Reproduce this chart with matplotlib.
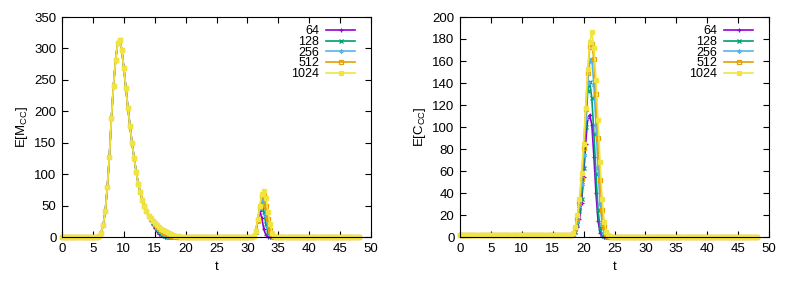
import matplotlib
matplotlib.use("Agg")
import matplotlib.pyplot as plt
import numpy as np

plt.rcParams["font.family"] = ["Liberation Sans", "DejaVu Sans"]
plt.rcParams["font.size"] = 9.5

# time grid: 0 .. 48 in steps of 1/3
T_STEP = 1 / 3
T_COUNT = 145

SIZES = ["64", "128", "256", "512", "1024"]
COLORS = ["#9400d3", "#009e73", "#56b4e9", "#e69f00", "#f0e442"]
MARKERS = ["+", "x", (6, 2, 0), "s", "s"]
FILLED = [True, True, True, False, True]

# E[M_CC] -- first peak is shared by every size (t = 5.67 .. 13.67)
M_PEAK1_START = 17
M_PEAK1 = [0.5, 2, 7, 19, 41, 79, 128, 190, 241, 281, 308, 313, 298, 269,
           237, 205, 177, 149, 126, 104, 85, 71, 59, 49, 41]
# tails from t = 14.0
M_TAIL_START = 42
M_TAIL = {
    "64":   [34, 27, 20, 14, 9, 5, 2.5, 1, 0.3],
    "128":  [34, 28, 22, 17, 12, 8, 5, 3, 1.5, 0.6, 0.2],
    "256":  [34, 29, 24, 19, 15, 11, 8, 5.5, 3.5, 2, 1, 0.4, 0.1],
    "512":  [34, 29, 25, 21, 17, 14, 11, 8.5, 6.5, 4.8, 3.4, 2.3, 1.5, 0.9,
             0.5, 0.2],
    "1024": [34, 29.5, 25.5, 22, 19, 16, 13.5, 11, 9, 7.2, 5.6, 4.2, 3.1, 2.2,
             1.5, 0.9, 0.5, 0.2],
}
# second peak from t = 31.0
M_PEAK2_START = 93
M_PEAK2 = {
    "64":   [1, 8, 25, 42, 30, 12, 3, 0.5],
    "128":  [1, 8, 25, 45, 55, 40, 20, 7, 2],
    "256":  [1, 9, 26, 46, 60, 55, 35, 16, 5, 1],
    "512":  [1, 9, 27, 48, 65, 68, 50, 28, 11, 3],
    "1024": [1, 10, 28, 50, 68, 73, 62, 40, 20, 7, 1.5],
}

# E[C_CC] -- small level before the peak, peak from t = 18.0
C_BASE = 1.5
C_BASE_END = 54
C_PEAK_START = 54
C_PEAK = {
    "64":   [1.5, 1.5, 4, 9, 16, 31, 55, 85, 108, 111, 102, 73, 40, 15, 4, 1,
             0.2],
    "128":  [1.5, 2, 5, 12, 24, 35, 63, 100, 133, 141, 126, 94, 57, 25, 8, 2,
             0.5],
    "256":  [1.5, 2, 6, 14, 28, 48, 75, 108, 140, 160, 162, 138, 102, 63, 30,
             12, 4, 1],
    "512":  [1.5, 3, 8, 17, 32, 53, 81, 116, 149, 173, 175, 162, 130, 90, 52,
             25, 10, 3, 1],
    "1024": [2, 4, 9, 20, 35, 58, 85, 117, 153, 177, 186, 172, 143, 106, 68,
             35, 14, 5, 1.5, 0.5],
}


def series(parts):
    y = np.zeros(T_COUNT)
    for start, vals in parts:
        y[start:start + len(vals)] = vals
    return y


t = np.arange(T_COUNT) * T_STEP

fig = plt.figure(figsize=(8.05, 2.85), dpi=100)
ax1 = fig.add_axes([62 / 805, 1 - 237 / 285, 309 / 805, 220 / 285])
ax2 = fig.add_axes([460 / 805, 1 - 237 / 285, 309 / 805, 220 / 285])

for i, s in enumerate(SIZES):
    m = series([(M_PEAK1_START, M_PEAK1), (M_TAIL_START, M_TAIL[s]),
                (M_PEAK2_START, M_PEAK2[s])])
    c = series([(0, [C_BASE] * C_BASE_END), (C_PEAK_START, C_PEAK[s])])
    face = COLORS[i] if FILLED[i] else "none"
    for ax, y in ((ax1, m), (ax2, c)):
        ax.plot(t, y, color=COLORS[i], lw=1.2, marker=MARKERS[i], ms=3.3,
                mew=0.9, mfc=face, mec=COLORS[i], label=s, clip_on=False)

for ax, top, step, lab in ((ax1, 350, 50, r"E[M$_\mathregular{CC}$]"),
                           (ax2, 200, 20, r"E[C$_\mathregular{CC}$]")):
    ax.set_xlim(0, 50)
    ax.set_ylim(0, top)
    ax.set_xticks(np.arange(0, 51, 5))
    ax.set_yticks(np.arange(0, top + 1, step))
    ax.tick_params(direction="in", top=True, right=True, length=4,
                   width=0.8, pad=4, labelsize=9.5)
    for sp in ax.spines.values():
        sp.set_linewidth(0.8)
    ax.set_xlabel("t", labelpad=5)
    ax.set_ylabel(lab, labelpad=3)
    ax.legend(loc="upper right", frameon=False, markerfirst=False,
              numpoints=1, handlelength=2.3, handletextpad=0.6,
              labelspacing=-0.1, borderaxespad=0.25, fontsize=9,
              markerscale=0.85, bbox_to_anchor=(0.975, 1.0))

fig.savefig("out.png", dpi=100)
